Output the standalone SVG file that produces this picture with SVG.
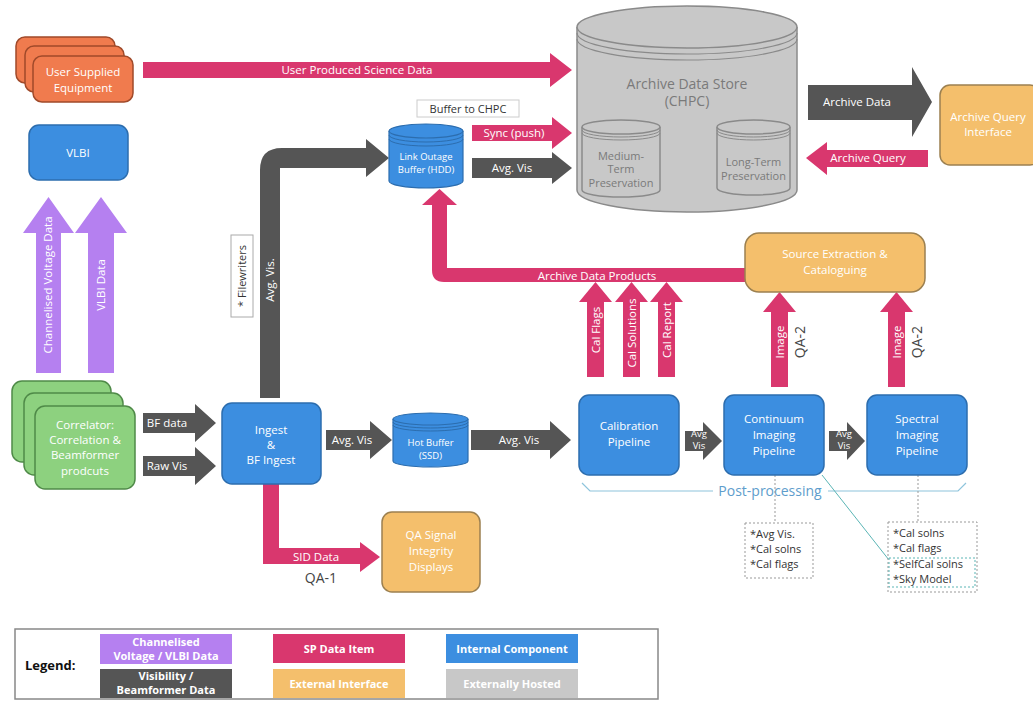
<svg xmlns="http://www.w3.org/2000/svg" width="1033" height="703" viewBox="0 0 1033 703">
<style>
text{font-family:"Open Sans","Noto Sans","Liberation Sans",sans-serif;}
.w{fill:#fff;font-size:11.5px;text-anchor:middle;}
.ws{fill:#fff;font-size:9.5px;text-anchor:middle;}
.wl{fill:#fff;font-size:11px;text-anchor:middle;font-weight:bold;}
.d{fill:#444;font-size:14px;text-anchor:middle;}
.g{fill:#7a7a7a;font-size:14px;text-anchor:middle;}
.gs{fill:#7a7a7a;font-size:11px;text-anchor:middle;}
.k{fill:#333;font-size:11px;}
.blue{fill:#3C8EE0;stroke:#2C6DAE;stroke-width:1.5;}
.org{fill:#F4BF6C;stroke:#9C8050;stroke-width:1.5;}
.grn{fill:#8DD17F;stroke:#4F8A48;stroke-width:1.5;}
.red{fill:#F07B4E;stroke:#A04A2A;stroke-width:1.5;}
.gry{fill:#C8C8C8;stroke:#8A8A8A;stroke-width:1.5;}
.pk{fill:#D9376E;}
.dk{fill:#555;}
.pu{fill:#B580F0;}
.cyl{fill:#3C8EE0;stroke:#2C6DAE;stroke-width:1.2;}
.dot{fill:#fff;stroke:#999;stroke-width:1;stroke-dasharray:2 2;}
</style>

<g id="connectors">
  <!-- User Produced Science Data -->
  <polygon class="pk" points="143,62 550,62 550,53 572,70 550,87 550,78 143,78"/>
  <text class="w" x="357" y="74">User Produced Science Data</text>
  <!-- Sync (push) -->
  <polygon class="pk" points="472,125 552,125 552,117 572,133 552,149 552,141 472,141"/>
  <text class="w" x="514" y="137">Sync (push)</text>
  <!-- Avg Vis to archive -->
  <polygon class="dk" points="472,158 552,158 552,152 572,168 552,184 552,178 472,178"/>
  <text class="w" x="512" y="172">Avg. Vis</text>
  <!-- Medium to Long -->
  <polygon fill="#707070" points="660,151 704,151 704,146 716,158 704,170 704,165 660,165"/>
  <!-- Archive Data -->
  <polygon class="dk" points="808,85 912,85 912,67 932,102 912,137 912,120 808,120"/>
  <text class="w" x="857" y="106">Archive Data</text>
  <!-- Archive Query -->
  <polygon class="pk" points="928,150 827,150 827,142 806,158 827,175 827,167 928,167"/>
  <text class="w" x="868" y="162">Archive Query</text>
  <!-- Purple arrows -->
  <polygon class="pu" points="36,373 36,233 23,233 48.5,197 74,233 61,233 61,373"/>
  <text class="w" transform="rotate(-90 52 285)" x="52" y="285">Channelised Voltage Data</text>
  <polygon class="pu" points="88,373 88,233 75,233 101,197 127,233 114,233 114,373"/>
  <text class="w" transform="rotate(-90 105 285)" x="105" y="285">VLBI Data</text>
  <!-- BF data, Raw Vis -->
  <polygon class="dk" points="143,413 195,413 195,404 216,423 195,442 195,433 143,433"/>
  <text class="w" x="167" y="427">BF data</text>
  <polygon class="dk" points="143,456 195,456 195,447 216,466 195,485 195,476 143,476"/>
  <text class="w" x="167" y="470">Raw Vis</text>
  <!-- Ingest Avg Vis up to link buffer -->
  <path class="dk" d="M260,398 L260,170 Q260,148 282,148 L366,148 L366,139 L389,158 L366,177 L366,168 L280,168 L280,398 Z"/>
  <text class="w" transform="rotate(-90 274 280)" x="274" y="280">Avg. Vis.</text>
  <rect x="231" y="235" width="22" height="82" fill="#fff" stroke="#aaa" stroke-width="1"/>
  <text class="k" text-anchor="middle" transform="rotate(-90 246 276)" x="246" y="276">* Filewriters</text>
  <!-- Ingest to Hot buffer -->
  <polygon class="dk" points="326,430 370,430 370,421 392,440 370,459 370,450 326,450"/>
  <text class="w" x="352" y="444">Avg. Vis</text>
  <!-- Hot buffer to Cal -->
  <polygon class="dk" points="471,430 550,430 550,421 571,440 550,459 550,450 471,450"/>
  <text class="w" x="519" y="444">Avg. Vis</text>
  <!-- Cal to Cont -->
  <polygon class="dk" points="685,431 703,431 703,422 722,441 703,460 703,451 685,451"/>
  <text class="ws" x="699" y="437" fill="#bbb">Avg</text>
  <text class="ws" x="699" y="449">Vis</text>
  <!-- Cont to Spec -->
  <polygon class="dk" points="829,431 847,431 847,422 865,441 847,460 847,451 829,451"/>
  <text class="ws" x="844" y="437">Avg</text>
  <text class="ws" x="844" y="449">Vis</text>
  <!-- SID Data -->
  <path class="pk" d="M263,484 L263,564 L360,564 L360,572 L380,557 L360,542 L360,548 L279,548 L279,484 Z"/>
  <text class="w" x="316" y="561">SID Data</text>
  <text class="d" x="321" y="583">QA-1</text>
  <!-- Archive Data Products -->
  <path class="pk" d="M746,268 L447,268 L447,205 L457,205 L439.5,189 L422,205 L432,205 L432,270 Q432,282 444,282 L746,282 Z"/>
  <text class="w" x="597" y="280">Archive Data Products</text>
  <!-- Cal arrows -->
  <polygon class="pk" points="587,377 587,302 579,302 595.5,282 612,302 604,302 604,377"/>
  <text class="w" transform="rotate(-90 599.5 330)" x="599.5" y="330">Cal Flags</text>
  <polygon class="pk" points="623,377 623,302 615,302 631.5,282 648,302 640,302 640,377"/>
  <text class="w" transform="rotate(-90 635.5 333)" x="635.5" y="333">Cal Solutions</text>
  <polygon class="pk" points="658,377 658,302 650,302 666.5,282 683,302 675,302 675,377"/>
  <text class="w" transform="rotate(-90 670.5 330)" x="670.5" y="330">Cal Report</text>
  <!-- Image arrows -->
  <polygon class="pk" points="771,387 771,312 763,312 779.5,292 796,312 788,312 788,387"/>
  <text class="w" transform="rotate(-90 783.5 342)" x="783.5" y="342">Image</text>
  <text class="d" transform="rotate(-90 805 342)" x="805" y="342">QA-2</text>
  <polygon class="pk" points="888,387 888,312 880,312 896.5,292 913,312 905,312 905,387"/>
  <text class="w" transform="rotate(-90 900.5 342)" x="900.5" y="342">Image</text>
  <text class="d" transform="rotate(-90 922 342)" x="922" y="342">QA-2</text>
  <!-- Post-processing bracket -->
  <path d="M582,483 L590,491 L713,491 M828,491 L958,491 L966,483" fill="none" stroke="#8EC4DC" stroke-width="1.2"/>
  <text x="770" y="496" fill="#5E9DCC" font-size="14" text-anchor="middle">Post-processing</text>
  <!-- Dotted notes -->
  <line x1="775" y1="475" x2="775" y2="523" stroke="#999" stroke-dasharray="2 2"/>
  <line x1="918" y1="475" x2="918" y2="522" stroke="#999" stroke-dasharray="2 2"/>
  <line x1="822" y1="475" x2="889" y2="560" stroke="#5BB5B5" stroke-width="1"/>
</g>

<g id="user-supplied">
  <rect class="red" x="16" y="37" width="99" height="46" rx="9"/>
  <rect class="red" x="25" y="46" width="99" height="46" rx="9"/>
  <rect class="red" x="33" y="56" width="100" height="46" rx="9"/>
  <text class="w" x="83" y="76">User Supplied</text>
  <text class="w" x="83" y="92">Equipment</text>
</g>

<g id="vlbi">
  <rect class="blue" x="29" y="125" width="99" height="55" rx="10"/>
  <text class="w" x="78" y="157">VLBI</text>
</g>

<g id="correlator">
  <rect class="grn" x="12" y="381" width="99" height="81" rx="10"/>
  <rect class="grn" x="24" y="393" width="99" height="82" rx="10"/>
  <rect class="grn" x="35" y="406" width="100" height="83" rx="10"/>
  <text class="w" x="85" y="429">Correlator:</text>
  <text class="w" x="85" y="444">Correlation &amp;</text>
  <text class="w" x="85" y="459">Beamformer</text>
  <text class="w" x="85" y="475">prodcuts</text>
</g>

<g id="ingest">
  <rect class="blue" x="222" y="403" width="99" height="81" rx="10"/>
  <text class="w" x="271" y="434">Ingest</text>
  <text class="w" x="271" y="449">&amp;</text>
  <text class="w" x="271" y="464">BF Ingest</text>
</g>

<g id="link-outage-buffer">
  <rect x="417" y="100" width="102" height="17" fill="#fff" stroke="#ccc"/>
  <text class="k" text-anchor="middle" x="468" y="113">Buffer to CHPC</text>
  <path class="cyl" d="M389,131 L389,181 A37,7 0 0 0 463,181 L463,131"/>
  <ellipse class="cyl" cx="426" cy="131" rx="37" ry="7"/>
  <path d="M389,135 A37,7 0 0 0 463,135 M389,139 A37,7 0 0 0 463,139" fill="none" stroke="#2C6DAE" stroke-width="1"/>
  <text class="ws" x="426" y="160">Link Outage</text>
  <text class="ws" x="426" y="173">Buffer (HDD)</text>
</g>

<g id="hot-buffer">
  <path class="cyl" d="M393,419 L393,461 A37.5,6 0 0 0 468,461 L468,419"/>
  <ellipse class="cyl" cx="430.5" cy="419" rx="37.5" ry="6"/>
  <path d="M393,422 A37.5,6 0 0 0 468,422 M393,425 A37.5,6 0 0 0 468,425" fill="none" stroke="#2C6DAE" stroke-width="1"/>
  <text class="ws" x="430.5" y="446">Hot Buffer</text>
  <text class="ws" x="430.5" y="459">(SSD)</text>
</g>

<g id="archive-data-store">
  <path class="gry" d="M577,27 L577,190 A110,22 0 0 0 797,190 L797,27"/>
  <ellipse class="gry" cx="687" cy="27" rx="110" ry="21"/>
  <path d="M577,33 A110,21 0 0 0 797,33 M577,39 A110,21 0 0 0 797,39" fill="none" stroke="#8A8A8A" stroke-width="1.2"/>
  <text class="g" x="687" y="89">Archive Data Store</text>
  <text class="g" x="687" y="106">(CHPC)</text>
  <g id="medium-term">
    <path class="gry" d="M582,127 L582,190 A39,7 0 0 0 660,190 L660,127"/>
    <ellipse class="gry" cx="621" cy="127" rx="39" ry="7"/>
    <path d="M582,130 A39,7 0 0 0 660,130 M582,133 A39,7 0 0 0 660,133" fill="none" stroke="#8A8A8A" stroke-width="1"/>
    <text class="gs" x="621" y="160">Medium-</text>
    <text class="gs" x="621" y="173">Term</text>
    <text class="gs" x="621" y="187">Preservation</text>
  </g>
  <g id="long-term">
    <path class="gry" d="M717,127 L717,188 A36.5,7 0 0 0 790,188 L790,127"/>
    <ellipse class="gry" cx="753.5" cy="127" rx="36.5" ry="7"/>
    <path d="M717,130 A36.5,7 0 0 0 790,130 M717,133 A36.5,7 0 0 0 790,133" fill="none" stroke="#8A8A8A" stroke-width="1"/>
    <text class="gs" x="753.5" y="166">Long-Term</text>
    <text class="gs" x="753.5" y="180">Preservation</text>
  </g>
</g>

<g id="archive-query-interface">
  <rect class="org" x="940" y="85" width="100" height="80" rx="10"/>
  <text class="w" x="988" y="121">Archive Query</text>
  <text class="w" x="988" y="136">Interface</text>
</g>

<g id="source-extraction">
  <rect class="org" x="745" y="233" width="180" height="59" rx="14"/>
  <text class="w" x="835" y="258">Source Extraction &amp;</text>
  <text class="w" x="835" y="274">Cataloguing</text>
</g>

<g id="qa-sid">
  <rect class="org" x="382" y="512" width="98" height="80" rx="10"/>
  <text class="w" x="431" y="539">QA Signal</text>
  <text class="w" x="431" y="555">Integrity</text>
  <text class="w" x="431" y="571">Displays</text>
</g>

<g id="calibration-pipeline">
  <rect class="blue" x="579" y="395" width="100" height="80" rx="10"/>
  <text class="w" x="629" y="430">Calibration</text>
  <text class="w" x="629" y="446">Pipeline</text>
</g>

<g id="continuum-pipeline">
  <rect class="blue" x="724" y="395" width="100" height="80" rx="10"/>
  <text class="w" x="774" y="423">Continuum</text>
  <text class="w" x="774" y="439">Imaging</text>
  <text class="w" x="774" y="455">Pipeline</text>
</g>

<g id="spectral-pipeline">
  <rect class="blue" x="867" y="395" width="100" height="80" rx="10"/>
  <text class="w" x="917" y="423">Spectral</text>
  <text class="w" x="917" y="439">Imaging</text>
  <text class="w" x="917" y="455">Pipeline</text>
</g>

<g id="note-continuum">
  <rect class="dot" x="745" y="523" width="68" height="55"/>
  <text class="k" x="750" y="538">*Avg Vis.</text>
  <text class="k" x="750" y="553">*Cal solns</text>
  <text class="k" x="750" y="568">*Cal flags</text>
</g>

<g id="note-spectral">
  <rect class="dot" x="888" y="522" width="89" height="70"/>
  <rect x="889" y="558" width="86" height="29" fill="none" stroke="#5BB5B5" stroke-width="1" stroke-dasharray="2 2"/>
  <text class="k" x="893" y="537">*Cal solns</text>
  <text class="k" x="893" y="552">*Cal flags</text>
  <text class="k" x="893" y="568">*SelfCal solns</text>
  <text class="k" x="893" y="583">*Sky Model</text>
</g>

<g id="legend">
  <rect x="15" y="629" width="643" height="70" fill="#fff" stroke="#888" stroke-width="1.5"/>
  <text x="25" y="670" font-size="13" font-weight="bold" fill="#111">Legend:</text>
  <rect x="100" y="634" width="132" height="30" fill="#B580F0"/>
  <text class="wl" x="166" y="646">Channelised</text>
  <text class="wl" x="166" y="660">Voltage / VLBI Data</text>
  <rect x="100" y="669" width="132" height="29" fill="#555"/>
  <text class="wl" x="166" y="680">Visibility /</text>
  <text class="wl" x="166" y="694">Beamformer Data</text>
  <rect x="273" y="634" width="132" height="29" fill="#D9376E"/>
  <text class="wl" x="339" y="653">SP Data Item</text>
  <rect x="273" y="669" width="132" height="29" fill="#F4BF6C"/>
  <text class="wl" x="339" y="688">External Interface</text>
  <rect x="446" y="634" width="132" height="29" fill="#3C8EE0"/>
  <text class="wl" x="512" y="653">Internal Component</text>
  <rect x="446" y="669" width="132" height="29" fill="#C8C8C8"/>
  <text class="wl" x="512" y="688">Externally Hosted</text>
</g>
</svg>
